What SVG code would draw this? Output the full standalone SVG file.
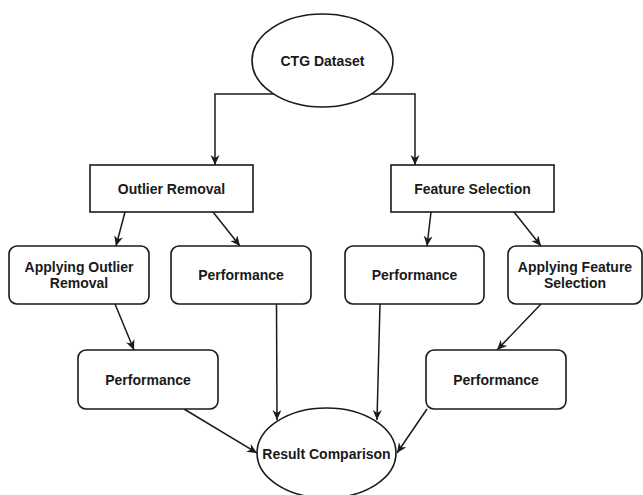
<svg xmlns="http://www.w3.org/2000/svg" width="643" height="495" viewBox="0 0 643 495">
<style>
.n{fill:#fff;stroke:#1a1a1a;stroke-width:1.6}
.t{font-family:"Liberation Sans",Arial,sans-serif;font-weight:bold;font-size:14px;fill:#1a1a1a;text-anchor:middle}
.c{fill:none;stroke:#1a1a1a;stroke-width:1.5;marker-end:url(#a)}
</style>
<defs>
<marker id="a" markerUnits="userSpaceOnUse" markerWidth="12" markerHeight="10" refX="10" refY="4.5" orient="auto">
<path d="M0,0 L10,4.5 L0,9 L3,4.5 z" fill="#1a1a1a"/>
</marker>
</defs>
<rect width="643" height="495" fill="#fff"/>
<g id="connectors">
<path class="c" d="M273.6,94 H215 V165"/>
<path class="c" d="M371.4,94 H415 V165"/>
<path class="c" d="M125,212 L116,246"/>
<path class="c" d="M213,212 L240,246"/>
<path class="c" d="M431,212 L427,246"/>
<path class="c" d="M514,212 L541,246"/>
<path class="c" d="M115,304 L134,350"/>
<path class="c" d="M541,304 L497,350"/>
<path class="c" d="M276.5,304 L277,420"/>
<path class="c" d="M380,304 L377,420"/>
<path class="c" d="M184,409 L257,453"/>
<path class="c" d="M427,409 L397,453"/>
</g>
<g id="ctg">
<ellipse class="n" cx="322.5" cy="60.5" rx="70.5" ry="46.5"/>
<text class="t" x="322.5" y="65.5">CTG Dataset</text>
</g>
<g id="outlier">
<rect class="n" x="90" y="165" width="163" height="47"/>
<text class="t" x="171.5" y="193.5">Outlier Removal</text>
</g>
<g id="feature">
<rect class="n" x="391" y="165" width="163" height="47"/>
<text class="t" x="472.5" y="193.5">Feature Selection</text>
</g>
<g id="applyOutlier">
<rect class="n" x="9" y="246" width="140" height="58" rx="8"/>
<text class="t" x="79" y="272">Applying Outlier</text>
<text class="t" x="79" y="288">Removal</text>
</g>
<g id="perf1">
<rect class="n" x="171" y="246" width="140" height="58" rx="8"/>
<text class="t" x="241" y="279.5">Performance</text>
</g>
<g id="perf2">
<rect class="n" x="345" y="246" width="139" height="58" rx="8"/>
<text class="t" x="414.5" y="279.5">Performance</text>
</g>
<g id="applyFeature">
<rect class="n" x="508" y="246" width="134" height="58" rx="8"/>
<text class="t" x="575" y="272">Applying Feature</text>
<text class="t" x="575" y="288">Selection</text>
</g>
<g id="perf3">
<rect class="n" x="78" y="350" width="140" height="59" rx="8"/>
<text class="t" x="148" y="384.5">Performance</text>
</g>
<g id="perf4">
<rect class="n" x="426" y="350" width="140" height="59" rx="8"/>
<text class="t" x="496" y="384.5">Performance</text>
</g>
<g id="result">
<ellipse class="n" cx="326.5" cy="453" rx="69.5" ry="45"/>
<text class="t" x="326.5" y="459">Result Comparison</text>
</g>
</svg>
